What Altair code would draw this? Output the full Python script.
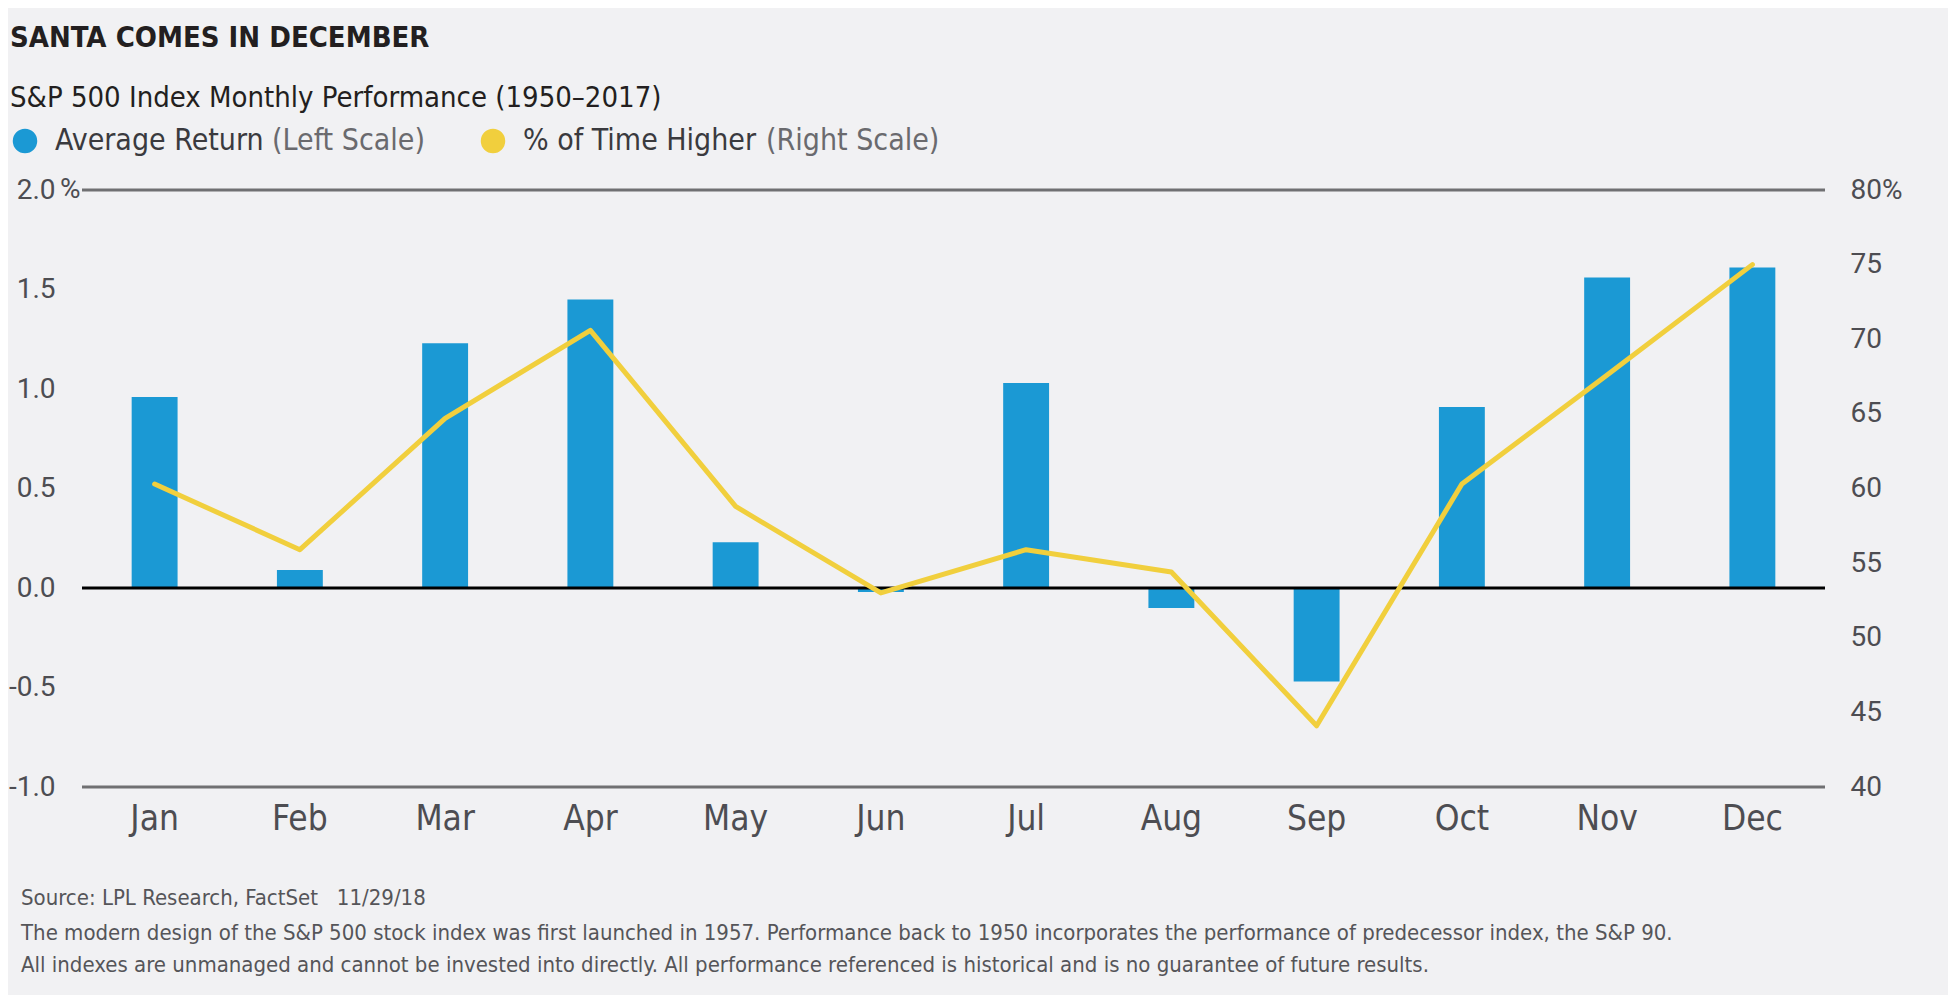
import altair as alt
import pandas as pd

months = ["Jan", "Feb", "Mar", "Apr", "May", "Jun", "Jul", "Aug", "Sep", "Oct", "Nov", "Dec"]
avg_return = [0.96, 0.09, 1.23, 1.45, 0.23, -0.02, 1.03, -0.10, -0.47, 0.91, 1.56, 1.61]
pct_higher = [60.3, 55.9, 64.7, 70.6, 58.8, 53.0, 55.9, 54.4, 44.1, 60.3, 67.6, 75.0]

left_ticks = [-1.0, -0.5, 0.0, 0.5, 1.0, 1.5, 2.0]
right_ticks = [40, 45, 50, 55, 60, 65, 70, 75, 80]
frame_lines = [2.0, -1.0]

title_text = "SANTA COMES IN DECEMBER"
subtitle_text = "S&P 500 Index Monthly Performance (1950\u20132017)"
footnotes = [
    "Source: LPL Research, FactSet\u00a0\u00a0\u00a011/29/18",
    "The modern design of the S&P 500 stock index was first launched in 1957. Performance back to 1950 incorporates the performance of predecessor index, the S&P 90.",
    "All indexes are unmanaged and cannot be invested into directly. All performance referenced is historical and is no guarantee of future results.",
]

BLUE = "#1b99d4"
YELLOW = "#f1cf3d"
BG = "#f1f1f3"
DARK = "#231f20"
LABEL = "#4d4d52"
NARROW = "Liberation Sans Narrow, DejaVu Sans Condensed, sans-serif"
NUM = "Roboto, sans-serif"

df = pd.DataFrame({"month": months, "ret": avg_return, "pct": pct_higher})

W, H = 1743, 597

xenc = alt.X(
    "month:N",
    sort=months,
    scale=alt.Scale(paddingInner=0.684, paddingOuter=0.342),
    axis=alt.Axis(
        title=None, labelAngle=0, ticks=False, domain=False, grid=False,
        labelFont=NARROW, labelFontSize=35, labelColor=LABEL, labelPadding=14,
    ),
)

left_scale = alt.Scale(domain=[-1, 2], nice=False, zero=False)

frame = alt.Chart(pd.DataFrame({"v": frame_lines})).mark_rule(
    color="#707072", strokeWidth=3
).encode(y=alt.Y("v:Q", scale=left_scale, axis=None))

bars = alt.Chart(df).mark_bar(color=BLUE).encode(
    x=xenc,
    y=alt.Y(
        "ret:Q",
        scale=left_scale,
        axis=alt.Axis(
            title=None, values=left_ticks, ticks=False, domain=False, grid=False,
            labelFont=NUM, labelFontSize=28, labelColor=LABEL, labelPadding=27,
            labelOverlap=False,
            labelExpr="datum.value < 0 ? '-' + format(-datum.value, '.1f') : format(datum.value, '.1f')",
        ),
    ),
)

zero = alt.Chart(pd.DataFrame({"v": [0.0]})).mark_rule(
    color="#000000", strokeWidth=3
).encode(y=alt.Y("v:Q", scale=left_scale, axis=None))

line = alt.Chart(df).mark_line(color=YELLOW, strokeWidth=5, strokeJoin="round", strokeCap="round").encode(
    x=alt.X("month:N", sort=months),
    y=alt.Y(
        "pct:Q",
        scale=alt.Scale(domain=[40, 80], nice=False, zero=False),
        axis=alt.Axis(
            orient="right", title=None, values=right_ticks, ticks=False, domain=False,
            grid=False, labelFont=NUM, labelFontSize=28, labelColor=LABEL,
            labelPadding=25, labelOverlap=False,
            labelExpr="datum.value == 80 ? '80%' : datum.value",
        ),
    ),
)

def txt(text, x, y, size, color, font=NARROW, weight="normal", align="left"):
    return alt.Chart(pd.DataFrame({"t": [text]})).mark_text(
        align=align, baseline="middle", font=font, fontSize=size,
        fontWeight=weight, color=color,
    ).encode(text="t:N", x=alt.value(x), y=alt.value(y))

def dot(color, x, y):
    return alt.Chart(pd.DataFrame({"t": [0]})).mark_circle(
        color=color, opacity=1, size=600
    ).encode(x=alt.value(x), y=alt.value(y))

decor = [
    txt(title_text, -72, -152, 29, DARK, weight="bold"),
    txt(subtitle_text, -72, -92, 29, DARK),
    dot(BLUE, -57, -49),
    txt("Average Return", -27, -49, 30, "#3a3a3e"),
    txt("(Left Scale)", 190, -49, 30, "#6a6a6e"),
    dot(YELLOW, 411, -49),
    txt("% of Time Higher", 441, -49, 30, "#3a3a3e"),
    txt("(Right Scale)", 684, -49, 30, "#6a6a6e"),
    txt("%", -22, 0, 28, LABEL, font=NUM),
    txt(footnotes[0], -61, 708, 22, "#555559"),
    txt(footnotes[1], -61, 743, 22, "#555559"),
    txt(footnotes[2], -61, 775, 22, "#555559"),
]

chart = alt.layer(frame, bars, zero, line, *decor).resolve_scale(
    y="independent"
).properties(
    width=W,
    height=H,
    autosize=alt.AutoSizeParams(type="none"),
    padding={"left": 74, "top": 182, "right": 123, "bottom": 208},
    background=BG,
).configure_view(strokeWidth=0)

chart.save("out.html", embed_options={"renderer": "svg", "actions": False})
